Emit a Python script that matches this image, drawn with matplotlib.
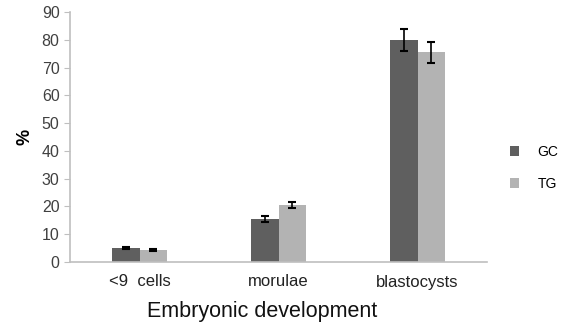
import matplotlib
matplotlib.use("Agg")
import matplotlib.pyplot as plt
import numpy as np

categories = ["<9  cells", "morulae", "blastocysts"]
gc_values = [5.0, 15.5, 80.0]
tg_values = [4.3, 20.5, 75.5]
gc_err = [0.4, 1.0, 4.0]
tg_err = [0.4, 1.2, 3.7]
series_names = ["GC", "TG"]

fig = plt.figure(figsize=(5.67, 3.31), dpi=100)
ax = fig.add_axes([70/567, 1-262/331, (487-70)/567, 250/331])

x = np.arange(len(categories))
w = 0.2
ax.bar(x - w/2, gc_values, w, color="#5f5f5f", label=series_names[0],
       yerr=gc_err, error_kw=dict(ecolor="black", capsize=3, elinewidth=1.2, capthick=1.5))
ax.bar(x + w/2, tg_values, w, color="#b3b3b3", label=series_names[1],
       yerr=tg_err, error_kw=dict(ecolor="black", capsize=3, elinewidth=1.2, capthick=1.5))

ax.set_xlim(-0.5, 2.5)
ax.set_ylim(0, 90)
ax.set_yticks(range(0, 91, 10))
ax.set_xticks(x)
ax.set_xticklabels(categories, fontsize=12, color="#222222", family="Liberation Sans")
ax.tick_params(axis="x", length=0, pad=9)
ax.tick_params(axis="y", labelsize=11.5, colors="#bfbfbf", labelcolor="#404040", length=4, direction="out")
for lab in ax.get_yticklabels():
    lab.set_family("Liberation Sans")
for s in ["top", "right"]:
    ax.spines[s].set_visible(False)
for s in ["left", "bottom"]:
    ax.spines[s].set_color("#bfbfbf")
    ax.spines[s].set_linewidth(1.2)

ax.set_xlabel("Embryonic development", fontsize=15.5, family="Liberation Sans", color="#111111")
ax.xaxis.set_label_coords((262-70)/(487-70), -0.155)
ax.xaxis.label.set_va("top")
ax.set_ylabel("%", fontsize=13, family="Liberation Sans", fontweight="bold", labelpad=6)

leg = fig.legend(loc="upper left", bbox_to_anchor=(497/567, 1-132/331), frameon=False,
                 handlelength=0.7, handleheight=0.7, labelspacing=1.3, handletextpad=1.3,
                 prop=dict(family="Liberation Sans", size=10))

fig.savefig("out.png", dpi=100)
